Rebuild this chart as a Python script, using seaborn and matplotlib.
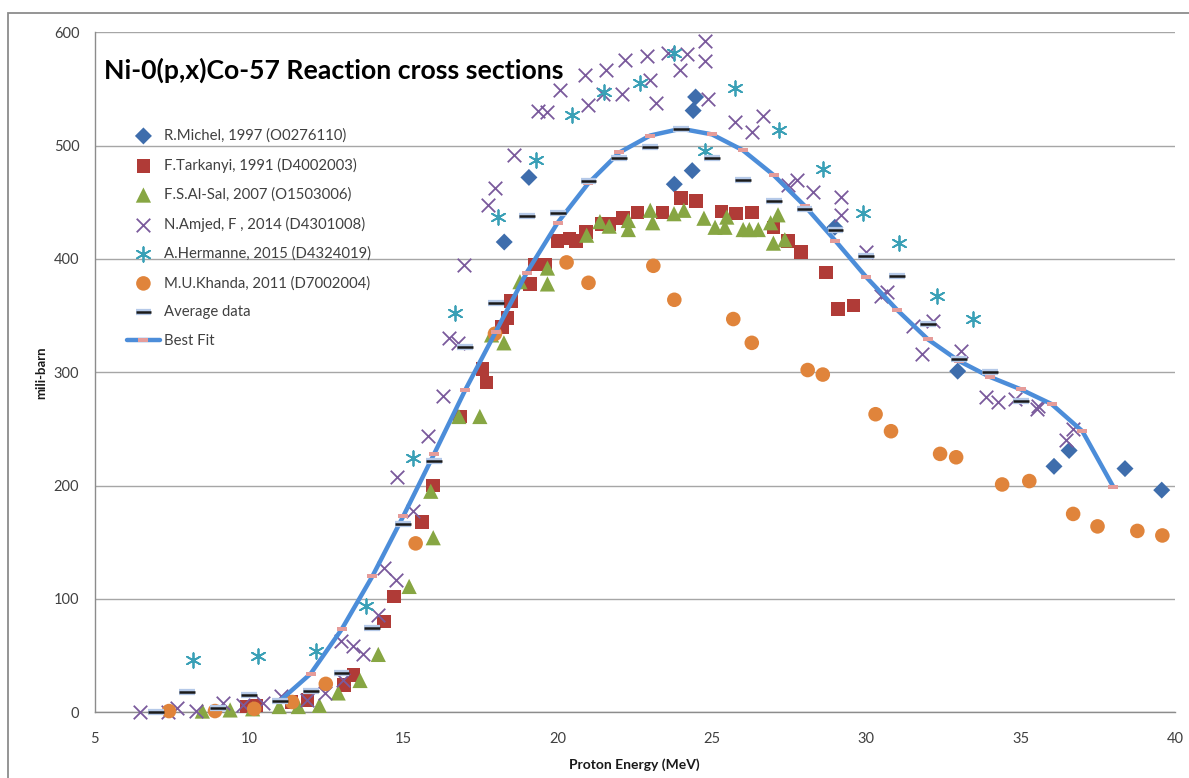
import matplotlib
matplotlib.use("Agg")
import matplotlib.pyplot as plt
import matplotlib.patheffects as pe
from matplotlib.patches import Rectangle
import seaborn as sns

# Proton energy (MeV) and cross section (mb) for each data set
michel_e = [18.27, 19.07, 23.78, 24.36, 24.39, 24.47, 28.98, 32.96, 36.08, 36.57, 38.38, 39.57]
michel_mb = [415, 472, 466, 478, 531, 543, 428, 301, 217, 231, 215, 196]

tarkanyi_e = [9.93, 10.22, 11.38, 11.89, 13.08, 13.38, 14.37, 14.70, 15.61, 15.97, 16.84, 17.57,
              17.70, 18.19, 18.38, 18.49, 19.10, 19.27, 19.59, 19.99, 20.38, 20.59, 20.92, 21.43,
              21.67, 22.11, 22.59, 23.40, 23.99, 24.48, 25.31, 25.78, 26.29, 26.99, 27.47, 27.88,
              28.69, 29.09, 29.58]
tarkanyi_mb = [5, 6, 9, 11, 24, 33, 80, 102, 168, 200, 261, 303,
               291, 340, 348, 363, 378, 395, 395, 416, 418, 416, 424, 431,
               431, 436, 441, 441, 454, 451, 442, 440, 441, 428, 416, 406,
               388, 356, 359]

alsal_e = [8.49, 9.39, 10.12, 10.98, 11.60, 12.28, 12.89, 13.60, 14.19, 15.19, 15.89, 15.97,
           16.80, 17.48, 17.86, 18.26, 18.78, 19.67, 19.67, 20.94, 21.37, 21.67, 22.29, 22.29,
           23.00, 23.08, 23.77, 24.09, 24.74, 25.10, 25.42, 25.48, 26.01, 26.21, 26.50, 26.90,
           26.99, 27.14, 27.36]
alsal_mb = [1, 2, 3, 5, 5, 6, 17, 28, 51, 111, 195, 154,
            261, 261, 333, 326, 380, 392, 378, 421, 433, 429, 434, 426,
            443, 432, 440, 443, 436, 428, 428, 437, 426, 426, 426, 432,
            414, 439, 417]

amjed_e = [6.47, 7.39, 7.68, 8.28, 9.17, 9.80, 10.47, 11.03, 11.89, 12.46, 13.06, 12.97,
           13.38, 13.71, 14.19, 14.37, 14.76, 15.30, 14.79, 15.81, 16.28, 16.48, 16.77, 16.97,
           17.75, 17.97, 18.59, 19.37, 19.65, 20.08, 20.89, 20.97, 21.57, 21.46, 22.08, 22.18,
           22.88, 22.99, 23.19, 23.58, 23.96, 24.20, 24.77, 24.77, 24.88, 25.75, 26.29, 26.66,
           27.47, 27.74, 28.28, 29.17, 29.17, 29.99, 30.46, 30.68, 31.50, 31.79, 32.17, 33.07,
           33.88, 34.27, 34.82, 35.52, 35.57, 36.47, 36.70]
amjed_mb = [0, 0, 4, 1, 8, 6, 8, 14, 11, 17, 28, 63,
            58, 51, 86, 127, 117, 178, 208, 244, 279, 330, 326, 395,
            448, 463, 492, 531, 530, 549, 562, 536, 567, 546, 546, 576,
            579, 558, 538, 582, 567, 581, 592, 575, 541, 521, 512, 526,
            465, 470, 459, 455, 439, 406, 367, 371, 341, 316, 345, 319,
            278, 274, 276, 268, 270, 240, 250]

hermanne_e = [8.20, 10.28, 12.17, 13.79, 15.30, 16.68, 18.08, 19.30, 20.47, 21.50,
              22.67, 23.77, 24.77, 25.75, 27.18, 28.59, 29.88, 31.07, 32.28, 33.46]
hermanne_mb = [46, 50, 54, 94, 224, 352, 437, 487, 527, 547,
               555, 582, 495, 551, 514, 479, 441, 414, 367, 347]

khanda_e = [7.41, 8.90, 10.17, 11.40, 12.49, 15.40, 17.97, 20.29, 21.00, 23.10, 23.78, 25.69,
            26.29, 28.10, 28.59, 30.30, 30.80, 32.39, 32.91, 34.40, 35.28, 36.70, 37.49, 38.78,
            39.59]
khanda_mb = [1, 1, 3, 9, 25, 149, 334, 397, 379, 394, 364, 347,
             326, 302, 298, 263, 248, 228, 225, 201, 204, 175, 164, 160,
             156]

avg_e = [7, 8, 9, 10, 11, 12, 13, 14, 15, 16, 17, 18, 19, 20, 21, 22, 23, 24, 25, 26, 27,
         28, 29, 30, 31, 32, 33, 34, 35]
avg_mb = [0.5, 18, 4, 15, 10, 19, 35, 74, 166, 222, 322, 361, 438, 441, 469, 489, 499, 515,
          489, 470, 451, 444, 426, 403, 385, 343, 312, 300, 275]

fit_e = [11, 12, 13, 14, 15, 16, 17, 18, 19, 20, 21, 22, 23, 24, 25, 26, 27, 28, 29, 30,
         31, 32, 33, 34, 35, 36, 37, 38]
fit_mb = [10, 34, 73, 120, 173, 228, 284, 336, 388, 432, 467, 494, 509, 515, 510, 496, 474,
          447, 416, 384, 355, 329, 310, 296, 285, 272, 248, 199]

x_ticks = [5, 10, 15, 20, 25, 30, 35, 40]
y_ticks = [0, 100, 200, 300, 400, 500, 600]

labels = ["R.Michel, 1997 (O0276110)", "F.Tarkanyi, 1991 (D4002003)",
          "F.S.Al-Sal, 2007 (O1503006)", "N.Amjed, F , 2014 (D4301008)",
          "A.Hermanne, 2015 (D4324019)", "M.U.Khanda, 2011 (D7002004)",
          "Average data", "Best Fit"]

sns.set_theme(style="white")
plt.rcParams["font.family"] = ["Lato", "DejaVu Sans"]

W, H = 1189, 778
fig = plt.figure(figsize=(W / 100, H / 100), dpi=100)
left, right, top, bottom = 94.6, 1175.0, 32.4, 712.2
ax = fig.add_axes([left / W, 1 - bottom / H, (right - left) / W, (bottom - top) / H])

# chart-area frame
fig.patches.append(Rectangle((8 / W, -0.05), 1.2, 1 - 13 / H + 0.05, transform=fig.transFigure,
                             fill=False, edgecolor="#8c8c8c", lw=1.3))

common = dict(ax=ax, zorder=3, clip_on=False)
sns.scatterplot(x=michel_e, y=michel_mb, marker="D", s=75, color="#3E6DAC",
                edgecolor="none", label=labels[0], **common)
sns.scatterplot(x=tarkanyi_e, y=tarkanyi_mb, marker="s", s=95, color="#B03B37",
                edgecolor="none", label=labels[1], **common)
sns.scatterplot(x=alsal_e, y=alsal_mb, marker="^", s=120, color="#87A643",
                edgecolor="none", label=labels[2], **common)
sns.scatterplot(x=amjed_e, y=amjed_mb, marker="x", s=95, color="#7A5A9C",
                linewidth=1.3, label=labels[3], **common)
sns.scatterplot(x=hermanne_e, y=hermanne_mb, marker=(6, 2, 0), s=110, color="#3AA0B6",
                linewidth=1.3, label=labels[4], **common)
sns.scatterplot(x=khanda_e, y=khanda_mb, marker="o", s=110, color="#E0843B",
                edgecolor="none", label=labels[5], **common)
sns.scatterplot(x=avg_e, y=avg_mb, marker="_", s=130, color="#1a1a1a", linewidth=1.8,
                label=labels[6], ax=ax, zorder=5, clip_on=False,
                path_effects=[pe.Stroke(linewidth=4.5, foreground="#b5c9e8"), pe.Normal()])

dash = [(-1, -0.42), (1, -0.42), (1, 0.42), (-1, 0.42), (-1, -0.42)]
sns.lineplot(x=fit_e, y=fit_mb, color="#4C8DD9", lw=3.2, marker=dash, markersize=7,
             markerfacecolor="#E59C9A", markeredgewidth=0, label=labels[7], ax=ax, zorder=4)

ax.set_xlim(5, 40)
ax.set_ylim(0, 600)
ax.set_xticks(x_ticks)
ax.set_yticks(y_ticks)
ax.yaxis.grid(True, color="#a6a6a6", lw=1.0)
ax.xaxis.grid(False)
ax.set_axisbelow(True)
for side in ["top", "right"]:
    ax.spines[side].set_visible(False)
for side in ["left", "bottom"]:
    ax.spines[side].set_color("#8c8c8c")
    ax.spines[side].set_linewidth(1.0)
ax.tick_params(axis="both", direction="out", length=4, width=1, color="#8c8c8c",
               labelsize=10.5, labelcolor="#404040", pad=7)
ax.tick_params(axis="x", pad=10)

ax.set_xlabel("Proton Energy (MeV)", fontsize=10, fontweight="bold", color="#1a1a1a", labelpad=9)
ax.set_ylabel("mili-barn", fontsize=9.5, fontweight="bold", color="#1a1a1a", labelpad=5)

fig.text(104 / W, 1 - 70 / H, "Ni-0(p,x)Co-57 Reaction cross sections", fontsize=19.2,
         fontweight="bold", color="black", ha="left", va="center")

handles, labs = ax.get_legend_handles_labels()
order = [labs.index(l) for l in labels]
leg = ax.legend([handles[i] for i in order], [labs[i] for i in order],
                loc="upper left",
                bbox_to_anchor=((126.7 - left) / (right - left), (bottom - 128.5) / (bottom - top)),
                borderaxespad=0, borderpad=0, frameon=False, fontsize=10.7,
                handlelength=2.25, handletextpad=0.25, labelspacing=1.0)
for t in leg.get_texts():
    t.set_color("#404040")

fig.savefig("out.png", dpi=100)
